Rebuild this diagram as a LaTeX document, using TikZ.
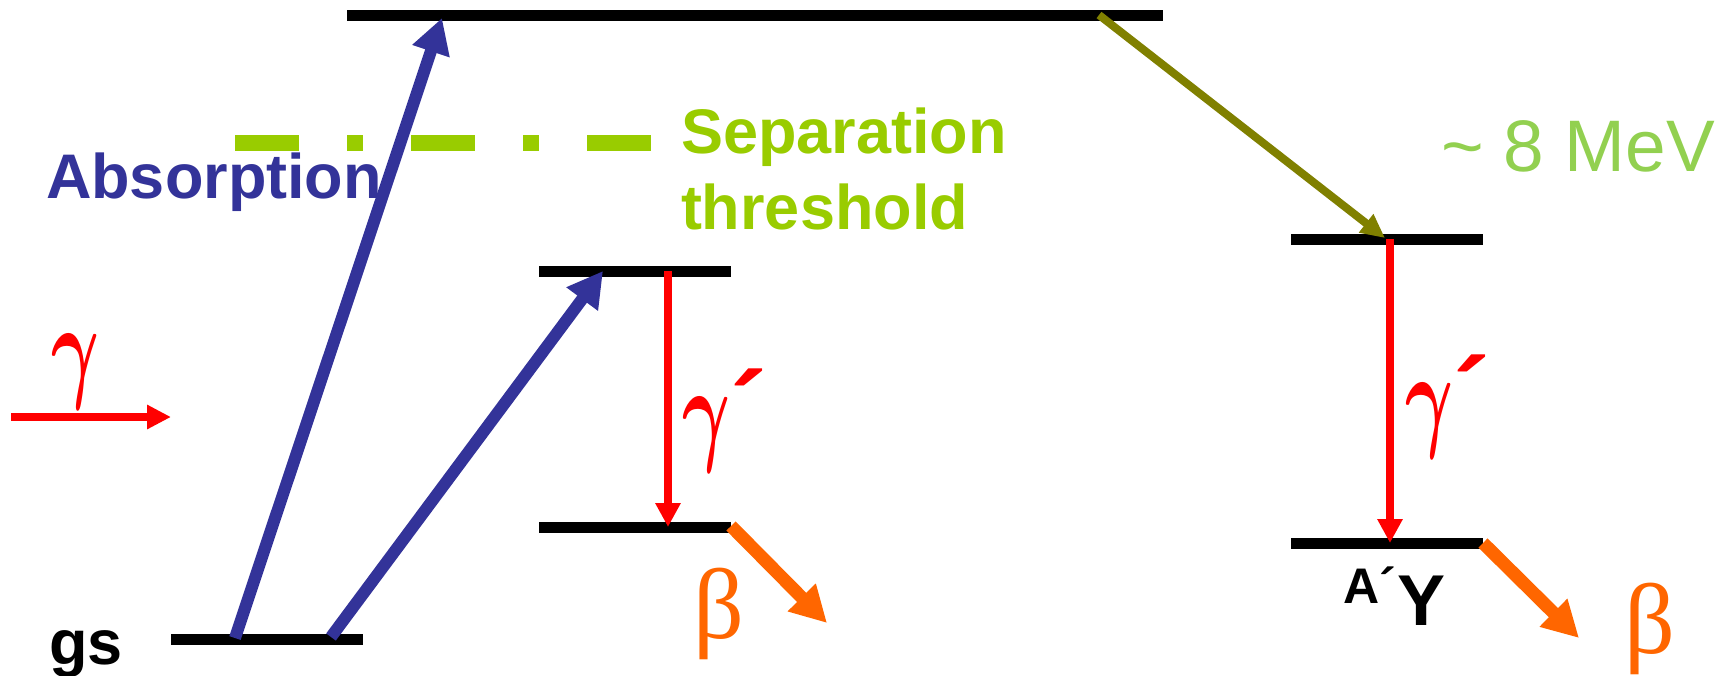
\documentclass[tikz,border=0pt]{standalone}
\usepackage{fontspec}
\setmainfont{Liberation Sans}
\newfontfamily\grk{Liberation Serif}
\newfontfamily\accfont{Liberation Sans Bold}
\usetikzlibrary{arrows.meta}
\definecolor{absblue}{RGB}{51,51,153}
\definecolor{sepgreen}{RGB}{153,204,0}
\definecolor{mevgreen}{RGB}{146,208,80}
\definecolor{olivec}{RGB}{128,128,0}
\definecolor{orangec}{RGB}{255,102,0}
\definecolor{redc}{RGB}{255,0,0}
\newcommand{\gam}{\resizebox*{48pt}{75pt}{\boldmath$\gamma$}}
\tikzset{
 level/.style={line width=11pt, black},
 absarrow/.style={line width=12pt, absblue, -{Triangle[length=35pt,width=37pt]}},
 gamarrow/.style={line width=8pt, redc, -{Triangle[length=24pt,width=24pt]}},
 betaarrow/.style={line width=13pt, orangec, -{Triangle[length=36pt,width=37pt]}},
 decayarrow/.style={line width=8pt, olivec, -{Triangle[length=24pt,width=22pt]}},
 lbl/.style={inner sep=0pt, outer sep=0pt, anchor=base west},
 greek/.style={lbl, redc, font=\fontsize{110}{110}\selectfont},
 betalbl/.style={lbl, orangec, font=\grk\fontsize{100}{100}\selectfont},
 sansbold/.style={lbl, font=\bfseries\fontsize{63}{63}\selectfont},
}
\begin{document}
\begin{tikzpicture}[x=1pt,y=-1pt]
\useasboundingbox (0,0) rectangle (1729,675);
% level end points
\coordinate (topL) at (347,15);  \coordinate (topR) at (1163,15);
\coordinate (midL) at (539,271); \coordinate (midR) at (731,271);
\coordinate (lowL) at (539,527); \coordinate (lowR) at (731,527);
\coordinate (gsL) at (171,639);  \coordinate (gsR) at (363,639);
\coordinate (r1L) at (1291,239); \coordinate (r1R) at (1483,239);
\coordinate (r2L) at (1291,543); \coordinate (r2R) at (1483,543);
% arrow end points
\coordinate (a1s) at (235,638); \coordinate (a1e) at (442,18);
\coordinate (a2s) at (331,637); \coordinate (a2e) at (603,271);
\coordinate (gins) at (11,417); \coordinate (gine) at (171,417);
\coordinate (g1s) at (668,271); \coordinate (g1e) at (668,527);
\coordinate (g2s) at (1390,239); \coordinate (g2e) at (1390,543);
\coordinate (ds) at (1099,15); \coordinate (de) at (1385,238);
\coordinate (b1s) at (731,526); \coordinate (b1e) at (827,623);
\coordinate (b2s) at (1483,543); \coordinate (b2e) at (1579,638);
\coordinate (thrL) at (235,143); \coordinate (thrR) at (651,143);
% levels
\draw[level] (topL) -- (topR);
\draw[level] (midL) -- (midR);
\draw[level] (lowL) -- (lowR);
\draw[level] (gsL) -- (gsR);
\draw[level] (r1L) -- (r1R);
\draw[level] (r2L) -- (r2R);
% threshold
\draw[sepgreen, line width=16pt, dash pattern=on 64pt off 48pt on 16pt off 48pt] (thrL) -- (thrR);
% arrows
\draw[absarrow] (a1s) -- (a1e);
\draw[absarrow] (a2s) -- (a2e);
\draw[redc, line width=8pt, -{Triangle[length=24pt,width=23pt]}] (gins) -- (gine);
\draw[gamarrow] (g1s) -- (g1e);
\draw[gamarrow] (g2s) -- (g2e);
\draw[decayarrow] (ds) -- (de);
\draw[betaarrow] (b1s) -- (b1e);
\draw[betaarrow] (b2s) -- (b2e);
% texts
\node[sansbold, absblue] (abs) at (46,198) {Absorption};
\node[sansbold, sepgreen] (sep1) at (681,153) {Separation};
\node[sansbold, sepgreen] (sep2) at (681,229) {threshold};
\node[lbl, mevgreen, font=\fontsize{73}{73}\selectfont] (mev) at (1441,171) {\textasciitilde{} 8 MeV};
\node[sansbold] (gs) at (49,664) {gs};
\node[lbl, font=\bfseries\fontsize{50}{50}\selectfont] (aa) at (1343,603) {A´};
\node[lbl, font=\bfseries\fontsize{72}{72}\selectfont] (yy) at (1397,625) {Y};
\node[greek] (gin) at (51,386) {\gam};
\node[greek] (gp1) at (682,449) {\gam{\accfont´}};
\node[greek] (gp2) at (1405,435) {\gam{\accfont´}};
\node[betalbl] (bl1) at (693,638) {β};
\node[betalbl] (bl2) at (1624,653) {β};
\end{tikzpicture}
\end{document}
